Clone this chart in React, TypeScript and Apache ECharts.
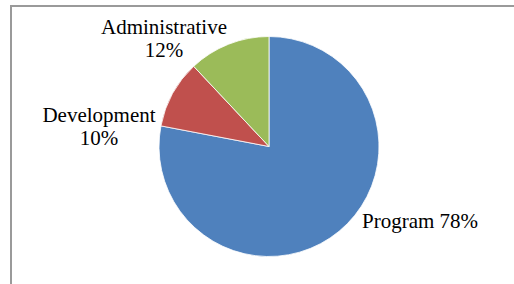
import React, { useEffect, useRef } from "react";
import * as echarts from "echarts";

const categories = ["Program", "Development", "Administrative"];
const values = [78, 10, 12];
const colors = ["#4F81BD", "#C0504D", "#9BBB59"];

export default function App() {
  const ref = useRef<HTMLDivElement>(null);
  useEffect(() => {
    if (!ref.current) return;
    const chart = echarts.init(ref.current, null, { renderer: "svg" });
    const labelPos = [
      { x: 362, y: 221, align: "left" },
      { x: 99, y: 126, align: "center" },
      { x: 164, y: 38, align: "center" },
    ];
    chart.setOption({
      animation: false,
      backgroundColor: "#ffffff",
      graphic: [
        {
          type: "rect",
          shape: { x: 11, y: 6, width: 520, height: 300 },
          style: { fill: "none", stroke: "#9a9a9a", lineWidth: 2 },
          silent: true,
        },
      ],
      series: [
        {
          type: "pie",
          center: [269, 146.5],
          radius: [0, 110],
          startAngle: 90,
          clockwise: true,
          avoidLabelOverlap: false,
          itemStyle: { borderColor: "#ffffff", borderWidth: 0.8 },
          label: {
            show: true,
            position: "outside",
            color: "#000",
            fontFamily: "Liberation Serif",
            fontSize: 21,
            lineHeight: 23,
          },
          labelLine: { show: false },
          labelLayout: (params: any) => {
            const p = labelPos[params.dataIndex];
            return { x: p.x, y: p.y, align: p.align, verticalAlign: "middle" };
          },
          data: categories.map((c, i) => ({
            name: c,
            value: values[i],
            itemStyle: { color: colors[i] },
            label: {
              formatter: i === 0 ? "{b} {d}%" : "{b}\n{d}%",
              align: labelPos[i].align,
            },
          })),
        },
      ],
    });
    return () => chart.dispose();
  }, []);
  return (
    <div
      ref={ref}
      style={{ position: "fixed", left: 0, top: 0, width: 514, height: 284 }}
    />
  );
}
